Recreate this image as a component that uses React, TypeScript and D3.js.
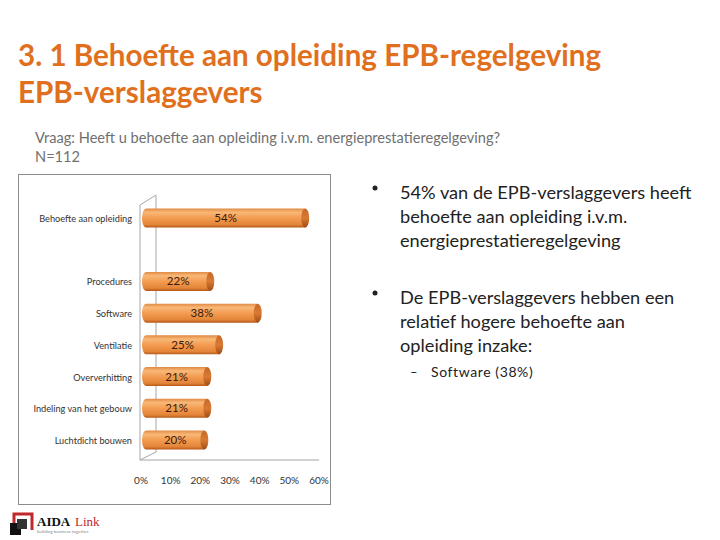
import React from "react";
import * as d3 from "d3";

// Categories, including one blank slot between the first bar and the rest
const categories = [
  "Behoefte aan opleiding",
  "",
  "Procedures",
  "Software",
  "Ventilatie",
  "Oververhitting",
  "Indeling van het gebouw",
  "Luchtdicht bouwen",
];
const values: (number | null)[] = [0.54, null, 0.22, 0.38, 0.25, 0.21, 0.21, 0.2];
const xTicks = [0, 0.1, 0.2, 0.3, 0.4, 0.5, 0.6];

const titleLines = ["3. 1 Behoefte aan opleiding EPB-regelgeving", "EPB-verslaggevers"];
const subtitleLines = [
  "Vraag: Heeft u behoefte aan opleiding i.v.m. energieprestatieregelgeving?",
  "N=112",
];
const bullet1 = [
  "54% van de EPB-verslaggevers heeft",
  "behoefte aan opleiding i.v.m.",
  "energieprestatieregelgeving",
];
const bullet2 = [
  "De EPB-verslaggevers hebben een",
  "relatief hogere behoefte aan",
  "opleiding inzake:",
];
const subBullet = "Software (38%)";

const font = "Lato, 'Open Sans', sans-serif";

const App: React.FC = () => {
  const width = 720;
  const height = 540;

  const x = d3.scaleLinear().domain([0, 0.6]).range([141, 319]);
  const y = d3.scalePoint<string>().domain(categories).range([218, 440]);
  const barH = 19;
  const depth = 16;
  const fmt = d3.format(".0%");

  const x0 = x(0);
  const wallTop = 205;
  const floorY = 460;

  return (
    <div style={{ position: "absolute", left: 0, top: 0 }}>
      <svg width={width} height={height} style={{ display: "block", background: "#fff" }}>
        <defs>
          <linearGradient id="cyl" x1="0" y1="0" x2="0" y2="1">
            <stop offset="0" stopColor="#e08a44" />
            <stop offset="0.2" stopColor="#f9b877" />
            <stop offset="0.5" stopColor="#f39c52" />
            <stop offset="0.85" stopColor="#e38538" />
            <stop offset="1" stopColor="#b55818" />
          </linearGradient>
          <linearGradient id="cap" x1="0" y1="0" x2="0" y2="1">
            <stop offset="0" stopColor="#c86a28" />
            <stop offset="0.5" stopColor="#d87a34" />
            <stop offset="1" stopColor="#a04c14" />
          </linearGradient>
        </defs>

        {/* title */}
        {titleLines.map((t, i) => (
          <text
            key={i}
            x={18}
            y={66 + i * 37}
            fontFamily={font}
            fontWeight="bold"
            fontSize={29.6}
            fill="#e0701e"
          >
            {t}
          </text>
        ))}
        {subtitleLines.map((t, i) => (
          <text key={i} x={35} y={143 + i * 19} fontFamily={font} fontSize={14.6} fill="#707070">
            {t}
          </text>
        ))}

        {/* chart frame */}
        <rect x={18.5} y={174.5} width={312} height={330} fill="#fff" stroke="#8c8c8c" />

        {/* 3D wall and floor */}
        <g stroke="#a6a6a6" fill="none">
          <line x1={x0 - 1} y1={wallTop} x2={x0 - 1} y2={floorY} />
          <line x1={x0 - 1} y1={wallTop} x2={x0 - 1 + depth} y2={wallTop - 10} />
          <line x1={x0 - 1 + depth} y1={wallTop - 10} x2={x0 - 1 + depth} y2={floorY - 8} />
          <line x1={x0 - 1} y1={floorY} x2={x0 - 1 + depth} y2={floorY - 8} />
          <line x1={x0 - 1} y1={floorY} x2={x(0.6)} y2={floorY} />
        </g>

        {/* x tick labels */}
        {xTicks.map((t) => (
          <text
            key={t}
            x={x(t)}
            y={484}
            textAnchor="middle"
            fontFamily={font}
            fontSize={10}
            fill="#333"
          >
            {fmt(t)}
          </text>
        ))}

        {/* bars */}
        {categories.map((c, i) => {
          const v = values[i];
          if (v == null) return null;
          const cy = y(c)!;
          const bx0 = x0 + 5;
          const bx1 = x(v) + 4;
          const ry = barH / 2;
          const rx = 4;
          const top = cy - ry;
          const d = `M${bx0},${top} L${bx1},${top} L${bx1},${top + barH} L${bx0},${top + barH} A${rx},${ry} 0 0 1 ${bx0},${top} Z`;
          return (
            <g key={c}>
              <path d={d} fill="url(#cyl)" />
              <ellipse cx={bx1} cy={cy} rx={rx} ry={ry} fill="url(#cap)" />
              <text
                x={(bx0 + bx1) / 2}
                y={cy + 4}
                textAnchor="middle"
                fontFamily={font}
                fontSize={11.5}
                fill="#3b1a08"
              >
                {fmt(v)}
              </text>
              <text
                x={132}
                y={cy + 4}
                textAnchor="end"
                fontFamily={font}
                fontSize={9.2}
                fill="#333"
              >
                {c}
              </text>
            </g>
          );
        })}

        {/* right-hand bullets */}
        {[bullet1, bullet2].map((lines, b) => (
          <g key={b}>
            <circle cx={375} cy={(b === 0 ? 193 : 298) - 5} r={2.5} fill="#222" />
            {lines.map((t, i) => (
              <text
                key={i}
                x={400}
                y={(b === 0 ? 199 : 304) + i * 24}
                fontFamily={font}
                fontSize={18.2}
                fill="#222"
              >
                {t}
              </text>
            ))}
          </g>
        ))}
        <text x={410} y={377} fontFamily={font} fontSize={13} fill="#222">
          –
        </text>
        <text x={431} y={377} fontFamily={font} fontSize={14} letterSpacing={0.6} fill="#222">
          {subBullet}
        </text>

        {/* logo */}
        <g>
          <path d="M14,530 L14,514 L32,514 L32,530" fill="none" stroke="#c0282d" strokeWidth={3} />
          <rect x={10} y={523} width={11} height={12} fill="#111" />
          <rect x={17} y={519} width={10} height={10} fill="#333" />
          <text x={37} y={526} fontFamily="'Liberation Serif', serif" fontWeight="bold" fontSize={13} fill="#111">
            AIDA
          </text>
          <text x={75} y={526} fontFamily="'Liberation Serif', serif" fontSize={13} fill="#c0282d">
            Link
          </text>
          <text x={37} y={533} fontFamily={font} fontSize={4.5} fill="#888">
            building business together
          </text>
        </g>
      </svg>
    </div>
  );
};

export default App;
